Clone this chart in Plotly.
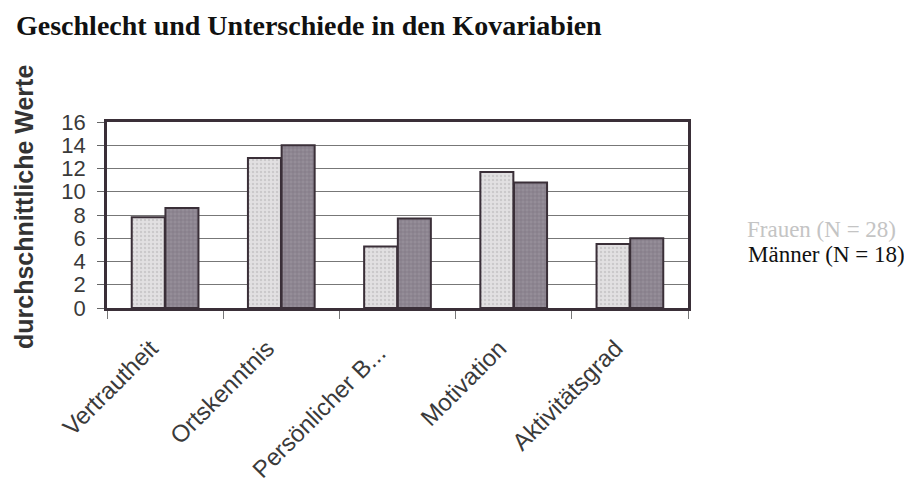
import plotly.graph_objects as go

categories = ["Vertrautheit", "Ortskenntnis", "Persönlicher B...", "Motivation", "Aktivitätsgrad"]
frauen = [7.8, 12.9, 5.3, 11.7, 5.5]
maenner = [8.6, 14.0, 7.7, 10.8, 6.0]
series_names = ["Frauen (N = 28)", "Männer (N = 18)"]
y_ticks = [0, 2, 4, 6, 8, 10, 12, 14, 16]

# page has an 8px body margin; work in page coordinates and subtract it
OFF = 8
W, H = 912 - OFF, 493 - OFF
PL, PR, PT, PB = 107, 688, 122, 308  # plot area in page px
L, R, T, B = PL - OFF, W - (PR - OFF), PT - OFF, H - (PB - OFF)
pw, ph = W - L - R, H - T - B


def px_x(x):
    return (x - OFF - L) / pw


def px_y(y):
    return 1 - (y - OFF - T) / ph


# trailing padding (in non-breaking spaces) to nudge each rotated label
label_pad = [3, 3, 4, 3, 3]

fig = go.Figure()
fig.add_trace(go.Bar(
    x=categories, y=frauen, name=series_names[0],
    marker=dict(color="#dcdadc", line=dict(color="#3a2f38", width=2),
                pattern=dict(shape=".", fgcolor="#b4b2b4", bgcolor="#e2e0e2", size=4, solidity=0.3)),
))
fig.add_trace(go.Bar(
    x=categories, y=maenner, name=series_names[1],
    marker=dict(color="#8a8290", line=dict(color="#3a2f38", width=2),
                pattern=dict(shape="+", fgcolor="#685e6e", bgcolor="#958d98", size=4, solidity=0.3)),
))

fig.update_layout(
    width=W, height=H,
    margin=dict(l=L, r=R, t=T, b=B),
    paper_bgcolor="white", plot_bgcolor="white",
    barmode="group", bargap=0.42, bargroupgap=0.02,
    showlegend=False,
    font=dict(family="Liberation Sans, Arial", color="#333333"),
)
fig.update_yaxes(
    range=[0, 16], tickvals=y_ticks, ticktext=[str(v) for v in y_ticks],
    showgrid=True, gridcolor="#777777", gridwidth=1,
    ticks="outside", ticklen=7, tickcolor="#666666",
    ticklabelstandoff=7, automargin=False,
    tickfont=dict(size=22, color="#3a3a3a"),
    showline=True, linecolor="#3a2f38", linewidth=2.5, mirror=True,
    zeroline=False,
)
fig.update_xaxes(
    tickangle=-45, tickson="boundaries", ticks="outside", ticklen=8, tickcolor="#777777",
    tickvals=categories, ticktext=[c + "\u00a0" * p for c, p in zip(categories, label_pad)],
    tickfont=dict(size=24, color="#3a3a3a"), automargin=False,
    showline=True, linecolor="#3a2f38", linewidth=2.5, mirror=True,
    showgrid=False,
)

# Title
fig.add_annotation(
    text="<b>Geschlecht und Unterschiede in den Kovariabien</b>",
    xref="paper", yref="paper",
    x=px_x(14), y=px_y(OFF),
    xanchor="left", yanchor="top", showarrow=False,
    font=dict(family="Liberation Serif, Times New Roman", size=28, color="#111111"),
)
# Y-axis title
fig.add_annotation(
    text="<b>durchschnittliche Werte</b>",
    xref="paper", yref="paper",
    x=px_x(OFF), y=px_y(207),
    xanchor="left", yanchor="middle", textangle=-90, showarrow=False,
    font=dict(family="Liberation Sans, Arial", size=25, color="#333333"),
)
# Legend texts
fig.add_annotation(
    text=series_names[0], xref="paper", yref="paper",
    x=px_x(898), y=px_y(229),
    xanchor="right", yanchor="middle", showarrow=False,
    font=dict(family="Liberation Serif, Times New Roman", size=23, color="#c4c4c4"),
)
fig.add_annotation(
    text=series_names[1], xref="paper", yref="paper",
    x=px_x(907), y=px_y(254),
    xanchor="right", yanchor="middle", showarrow=False,
    font=dict(family="Liberation Serif, Times New Roman", size=23, color="#111111"),
)

fig.write_html("out.html")
